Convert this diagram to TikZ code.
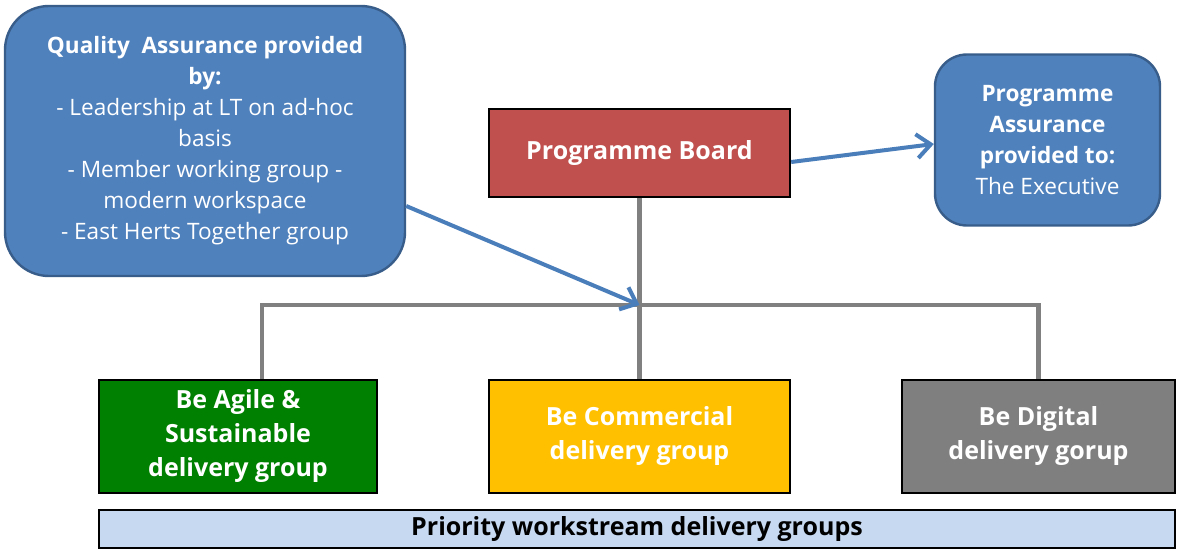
\documentclass[tikz,border=0pt]{standalone}
\usepackage{fontspec}
\setmainfont{Open Sans}
\usepackage{tikz}
\usetikzlibrary{positioning, arrows.meta}
\definecolor{qablue}{HTML}{4F81BD}
\definecolor{qaedge}{HTML}{385D8A}
\definecolor{boardred}{HTML}{C0504D}
\definecolor{agilegreen}{HTML}{008000}
\definecolor{commyellow}{HTML}{FFC000}
\definecolor{diggray}{HTML}{7F7F7F}
\definecolor{barblue}{HTML}{C6D9F1}
\definecolor{linkgray}{HTML}{808080}
\definecolor{feedblue}{HTML}{4A7EBB}
\tikzset{
  x=0.5pt, y=-0.5pt,
  >={Straight Barb[length=7pt, width=12pt, line width=2pt]},
  assurance/.style={draw=qaedge, fill=qablue, line width=1.2pt, rounded corners=22pt,
    text=white, align=center, font=\fontsize{11.3}{15.5}\selectfont, inner sep=0pt},
  group/.style={draw=black, line width=1.2pt, text=white, align=center,
    font=\fontsize{12.5}{17}\selectfont\bfseries, minimum height=56.5pt, inner sep=0pt},
  link/.style={draw=linkgray, line width=2.2pt},
  feed/.style={->, draw=feedblue, line width=2pt}
}

\begin{document}
\begin{tikzpicture}
    \useasboundingbox (0,0) rectangle (1189,551);

    \node[assurance, minimum width=200pt, minimum height=135pt] (qa) at (205,141)
      {\textbf{Quality~ Assurance provided}\\ \textbf{by:}\\ - Leadership at LT on ad-hoc\\ basis\\
       - Member working group -\\ modern workspace\\ - East Herts Together group};
    \node[group, fill=boardred, minimum width=150.5pt, minimum height=44pt] (board) at (639.5,153)
      {Programme Board};
    \node[assurance, rounded corners=16pt, minimum width=112.5pt, minimum height=85.5pt] (pa) at (1047.5,140)
      {\textbf{Programme}\\ \textbf{Assurance}\\ \textbf{provided to:}\\ The Executive};

    \node[group, fill=agilegreen, minimum width=139pt] (agile) at (238,436.5)
      {Be Agile \&\\ Sustainable\\ delivery group};
    \node[group, fill=commyellow, minimum width=150.5pt] (commercial) at (639.5,436.5)
      {Be Commercial\\ delivery group};
    \node[group, fill=diggray, minimum width=136.5pt] (digital) at (1038.5,436.5)
      {Be Digital\\ delivery gorup};
    \node[group, fill=barblue, text=black, minimum width=538pt, minimum height=19pt] (bar) at (637,529)
      {Priority workstream delivery groups};

    \coordinate (hub) at (639.5,305);

    \draw[link] (board) -- (commercial);
    \draw[link] ([xshift=12pt]agile.north) |- (hub) -| (digital.north);

    \draw[feed] ([yshift=-4.5pt]board.east) -- ([yshift=-2pt]pa.west);
    \draw[feed] ([yshift=-32.5pt]qa.east) -- (hub);
\end{tikzpicture}
\end{document}
